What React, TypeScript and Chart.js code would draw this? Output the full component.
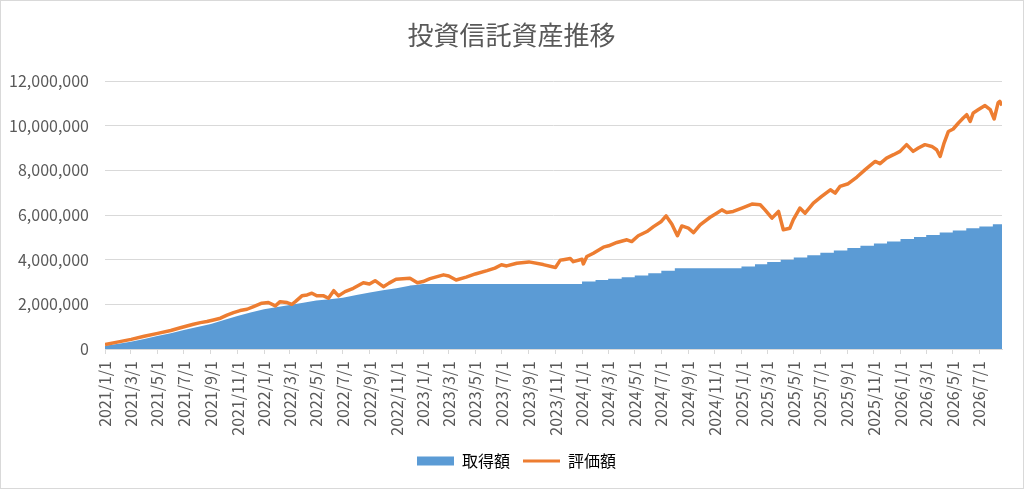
import { useEffect, useRef } from 'react';
import { Chart, registerables } from 'chart.js';

Chart.register(...registerables);

const BLUE = '#5b9bd5';
const ORANGE = '#ed7d31';
const GRID = '#d9d9d9';
const TEXT = '#595959';
const FONT = '"Noto Sans CJK JP", "Noto Sans", sans-serif';

// x-axis labels, every two months
const tickLabels = [
  '2021/1/1', '2021/3/1', '2021/5/1', '2021/7/1', '2021/9/1', '2021/11/1',
  '2022/1/1', '2022/3/1', '2022/5/1', '2022/7/1', '2022/9/1', '2022/11/1',
  '2023/1/1', '2023/3/1', '2023/5/1', '2023/7/1', '2023/9/1', '2023/11/1',
  '2024/1/1', '2024/3/1', '2024/5/1', '2024/7/1', '2024/9/1', '2024/11/1',
  '2025/1/1', '2025/3/1', '2025/5/1', '2025/7/1', '2025/9/1', '2025/11/1',
  '2026/1/1', '2026/3/1', '2026/5/1', '2026/7/1',
];
const yTicks = [0, 2000000, 4000000, 6000000, 8000000, 10000000, 12000000];

// 取得額 while buying daily (2021-2022): monthly readings
const costRampDates = [
  '2021/1/1', '2021/2/1', '2021/3/1', '2021/4/1', '2021/5/1', '2021/6/1',
  '2021/7/1', '2021/8/1', '2021/9/1', '2021/10/1', '2021/11/1', '2021/12/1',
  '2022/1/1', '2022/2/1', '2022/3/1', '2022/4/1', '2022/5/1', '2022/6/1',
  '2022/7/1', '2022/8/1', '2022/9/1', '2022/10/1', '2022/11/1', '2022/12/1',
  '2023/1/1',
];
const costRampValues = [
  150000, 230000, 330000, 450000, 580000, 710000,
  850000, 980000, 1120000, 1300000, 1480000, 1630000,
  1780000, 1880000, 1970000, 2070000, 2170000, 2230000,
  2300000, 2420000, 2530000, 2630000, 2720000, 2830000,
  2910000,
];

// 取得額 with monthly steps (value held until the next date)
const costStepDates = [
  '2022/12/1', '2023/1/1',
  '2024/1/1', '2024/2/1', '2024/3/1', '2024/4/1', '2024/5/1', '2024/6/1', '2024/7/1', '2024/8/1',
  '2025/1/1', '2025/2/1', '2025/3/1', '2025/4/1', '2025/5/1', '2025/6/1',
  '2025/7/1', '2025/8/1', '2025/9/1', '2025/10/1', '2025/11/1', '2025/12/1',
  '2026/1/1', '2026/2/1', '2026/3/1', '2026/4/1', '2026/5/1', '2026/6/1',
  '2026/7/1', '2026/8/1', '2026/8/22',
];
const costStepValues = [
  2830000, 2910000,
  3020000, 3090000, 3150000, 3210000, 3290000, 3390000, 3500000, 3620000,
  3690000, 3800000, 3900000, 4000000, 4100000, 4200000,
  4310000, 4410000, 4520000, 4620000, 4720000, 4810000,
  4920000, 5010000, 5110000, 5220000, 5310000, 5410000,
  5490000, 5590000, 5590000,
];

// 評価額
const valuationDates = [
  '2021/1/1', '2021/2/1', '2021/3/2', '2021/4/1', '2021/5/2', '2021/6/1', '2021/6/23', '2021/7/23',
  '2021/8/8', '2021/8/23', '2021/9/7', '2021/9/23', '2021/10/8', '2021/10/23', '2021/11/7', '2021/11/23',
  '2021/12/8', '2021/12/27',
  '2022/1/11', '2022/1/27', '2022/2/7', '2022/2/23', '2022/3/6', '2022/3/14', '2022/3/29', '2022/4/10',
  '2022/4/21', '2022/5/2', '2022/5/18', '2022/5/29', '2022/6/10', '2022/6/21', '2022/7/6', '2022/7/25',
  '2022/8/17', '2022/8/31', '2022/9/13', '2022/10/2', '2022/10/15', '2022/10/31', '2022/12/2', '2022/12/19',
  '2023/1/1', '2023/1/17', '2023/2/17', '2023/3/1', '2023/3/18', '2023/4/10', '2023/5/1', '2023/5/28',
  '2023/6/15', '2023/6/30', '2023/7/12', '2023/8/4', '2023/9/1', '2023/10/4', '2023/11/1', '2023/11/12',
  '2023/11/19', '2023/12/5', '2023/12/12',
  '2024/1/1', '2024/1/4', '2024/1/12', '2024/1/27', '2024/2/19', '2024/3/2', '2024/3/21', '2024/4/13',
  '2024/4/24', '2024/5/9', '2024/5/29', '2024/6/13', '2024/7/1', '2024/7/12', '2024/7/25', '2024/8/7',
  '2024/8/17', '2024/9/1', '2024/9/13', '2024/9/28', '2024/10/21', '2024/11/5', '2024/11/17', '2024/11/28',
  '2024/12/13',
  '2025/1/2', '2025/1/25', '2025/2/13', '2025/2/24', '2025/3/12', '2025/3/27', '2025/4/7', '2025/4/22',
  '2025/4/30', '2025/5/4', '2025/5/15', '2025/5/27', '2025/6/15', '2025/7/4', '2025/7/24', '2025/8/4',
  '2025/8/15', '2025/9/3', '2025/9/23', '2025/10/12', '2025/10/23', '2025/11/4', '2025/11/15', '2025/11/30',
  '2025/12/16', '2025/12/31',
  '2026/1/15', '2026/1/30', '2026/2/11', '2026/2/26', '2026/3/14', '2026/3/25', '2026/4/2', '2026/4/11',
  '2026/4/21', '2026/5/2', '2026/5/14', '2026/5/25', '2026/6/2', '2026/6/10', '2026/6/17', '2026/6/29',
  '2026/7/14', '2026/7/26', '2026/8/4', '2026/8/13', '2026/8/17', '2026/8/22',
];
const valuationValues = [
  200000, 320000, 430000, 570000, 700000, 830000, 950000, 1110000,
  1180000, 1230000, 1300000, 1380000, 1520000, 1630000, 1720000, 1780000,
  1900000, 2050000,
  2080000, 1930000, 2120000, 2080000, 2000000, 2120000, 2380000, 2420000,
  2500000, 2380000, 2380000, 2270000, 2610000, 2380000, 2570000, 2720000,
  2970000, 2910000, 3060000, 2790000, 2950000, 3120000, 3170000, 2970000,
  3020000, 3150000, 3320000, 3270000, 3090000, 3220000, 3360000, 3510000,
  3620000, 3770000, 3720000, 3840000, 3900000, 3780000, 3650000, 3980000,
  4000000, 4050000, 3910000,
  4020000, 3810000, 4140000, 4290000, 4560000, 4620000, 4770000, 4890000,
  4810000, 5070000, 5260000, 5480000, 5710000, 5960000, 5600000, 5070000,
  5510000, 5410000, 5210000, 5560000, 5900000, 6080000, 6230000, 6110000,
  6160000,
  6310000, 6490000, 6460000, 6230000, 5860000, 6160000, 5340000, 5410000,
  5790000, 5930000, 6310000, 6080000, 6530000, 6830000, 7130000, 6980000,
  7280000, 7400000, 7700000, 8030000, 8210000, 8400000, 8300000, 8550000,
  8700000, 8850000,
  9150000, 8850000, 9000000, 9150000, 9070000, 8920000, 8620000, 9220000,
  9740000, 9850000, 10120000, 10340000, 10490000, 10190000, 10570000, 10720000,
  10900000, 10720000, 10300000, 11020000, 11090000, 10900000,
];

// days since 2021/1/1
const toDay = (s: string) => {
  const [y, m, d] = s.split('/').map(Number);
  return Math.round((Date.UTC(y, m - 1, d) - Date.UTC(2021, 0, 1)) / 86400000);
};

const points = (dates: string[], values: number[]) =>
  dates.map((d, i) => ({ x: toDay(d), y: values[i] }));

// nudge title and legend to the right, like the Excel layout
const nudgeBoxes = {
  id: 'nudgeBoxes',
  afterLayout(chart: any) {
    if (chart.titleBlock) {
      chart.titleBlock.left += 10;
      chart.titleBlock.right += 10;
    }
    if (chart.legend) {
      chart.legend.left += 15;
      chart.legend.right += 15;
    }
  },
};

export default function App() {
  const chartRef = useRef<HTMLCanvasElement>(null);
  const chartInstance = useRef<Chart | null>(null);

  useEffect(() => {
    if (!chartRef.current) return;
    if (chartInstance.current) chartInstance.current.destroy();

    const ctx = chartRef.current.getContext('2d');
    if (!ctx) return;

    const tickDays = tickLabels.map(toDay);
    const lastDay = toDay(valuationDates[valuationDates.length - 1]);

    chartInstance.current = new Chart(ctx, {
      type: 'line',
      data: {
        datasets: [
          {
            label: '取得額',
            data: points(costRampDates, costRampValues),
            borderColor: BLUE,
            backgroundColor: BLUE,
            borderWidth: 0,
            pointRadius: 0,
            fill: 'origin',
            order: 1,
          },
          {
            label: '取得額',
            data: points(costStepDates, costStepValues),
            borderColor: BLUE,
            backgroundColor: BLUE,
            borderWidth: 0,
            pointRadius: 0,
            stepped: true,
            fill: 'origin',
            order: 1,
          },
          {
            label: '評価額',
            data: points(valuationDates, valuationValues),
            borderColor: ORANGE,
            backgroundColor: ORANGE,
            borderWidth: 3.5,
            borderJoinStyle: 'round',
            pointRadius: 0,
            fill: false,
            order: 0,
          },
        ],
      },
      options: {
        responsive: true,
        maintainAspectRatio: false,
        animation: false,
        events: [],
        layout: { padding: { left: 0, right: 21, top: 0, bottom: 9 } },
        font: { family: FONT },
        plugins: {
          tooltip: { enabled: false },
          title: {
            display: true,
            text: '投資信託資産推移',
            color: TEXT,
            font: { family: FONT, size: 26, weight: 'normal' },
            padding: { top: 19, bottom: 29.8 },
          },
          legend: {
            position: 'bottom',
            labels: {
              usePointStyle: true,
              pointStyleWidth: 37,
              boxHeight: 9,
              padding: 13,
              color: TEXT,
              font: { family: FONT, size: 16 },
              generateLabels: () => [
                { text: '取得額', fillStyle: BLUE, strokeStyle: BLUE, lineWidth: 0, pointStyle: 'rect', datasetIndex: 0, hidden: false },
                { text: '評価額', fillStyle: ORANGE, strokeStyle: ORANGE, lineWidth: 3, pointStyle: 'line', datasetIndex: 2, hidden: false },
              ],
            },
          },
        },
        scales: {
          x: {
            type: 'linear',
            min: 0,
            max: lastDay,
            afterBuildTicks: (scale) => {
              scale.ticks = tickDays.map((v) => ({ value: v }));
            },
            afterFit: (scale) => {
              scale.height = 91;
            },
            ticks: {
              autoSkip: false,
              minRotation: 90,
              maxRotation: 90,
              padding: 7,
              color: TEXT,
              font: { family: FONT, size: 16 },
              callback: (value) => tickLabels[tickDays.indexOf(Number(value))] ?? '',
            },
            grid: { drawOnChartArea: false, color: GRID, tickLength: 5 },
            border: { color: GRID },
          },
          y: {
            min: 0,
            max: 12000000,
            afterBuildTicks: (scale) => {
              scale.ticks = yTicks.map((v) => ({ value: v }));
            },
            afterFit: (scale) => {
              scale.width = 104;
            },
            ticks: {
              padding: 16,
              color: TEXT,
              font: { family: FONT, size: 16 },
              callback: (value) => Number(value).toLocaleString('en-US'),
            },
            grid: { color: GRID, drawTicks: false },
            border: { display: false },
          },
        },
      },
      plugins: [nudgeBoxes],
    });

    return () => {
      if (chartInstance.current) {
        chartInstance.current.destroy();
        chartInstance.current = null;
      }
    };
  }, []);

  return (
    <div
      style={{
        position: 'absolute',
        left: 0,
        top: 0,
        width: 1024,
        height: 489,
        boxSizing: 'border-box',
        border: `1px solid ${GRID}`,
        background: '#fff',
      }}
    >
      <div style={{ position: 'relative', width: 1022, height: 487 }}>
        <canvas ref={chartRef}></canvas>
      </div>
    </div>
  );
}
